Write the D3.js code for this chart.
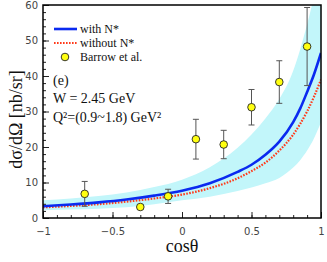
<!DOCTYPE html>
<html>
<head>
<meta charset="utf-8">
<script src="https://cdn.jsdelivr.net/npm/d3@7"></script>
<style>
  body { margin: 0; background: #fff; }
  svg { display: block; }
</style>
</head>
<body>
<div id="chart"></div>
<script>
// data
var expCos = [-0.7, -0.3, -0.1, 0.1, 0.3, 0.5, 0.7, 0.9];
var expVal = [6.8, 3.1, 6.1, 22.2, 20.7, 31.2, 38.3, 48.3];
var expErr = [3.5, 0.6, 2.0, 5.6, 4.0, 5.0, 6.0, 11.0];

var curveCos = [-1, -0.8, -0.6, -0.4, -0.2, 0, 0.2, 0.4, 0.5, 0.6, 0.7, 0.8, 0.85, 0.9, 0.95, 1];
var withNstar = [3.3, 3.8, 4.4, 5.2, 6.3, 7.7, 9.8, 13.0, 15.0, 17.8, 21.5, 27.0, 30.8, 35.5, 40.5, 46.5];
var withoutNstar = [3.0, 3.4, 3.9, 4.6, 5.5, 6.6, 8.4, 11.2, 13.2, 15.6, 19.0, 23.5, 26.5, 30.0, 34.2, 39.0];
var bandUpper = [5.0, 5.5, 6.2, 7.2, 8.7, 10.8, 14.3, 19.8, 23.5, 28.0, 33.5, 41.5, 47.5, 54.5, 62.5, 71.0];
var bandLower = [2.2, 2.4, 2.6, 3.0, 3.9, 5.0, 6.0, 7.6, 8.6, 9.8, 11.3, 14.2, 16.3, 19.0, 22.5, 27.0];

var xTicks = [-1, -0.5, 0, 0.5, 1];
var yTicks = [0, 10, 20, 30, 40, 50, 60];

var W = 327, H = 262;
var margin = { top: 5, right: 6, bottom: 44, left: 43 };
var width = W - margin.left - margin.right;
var height = H - margin.top - margin.bottom;

var svg = d3.select("#chart").append("svg")
  .attr("width", W).attr("height", H);

var g = svg.append("g")
  .attr("transform", "translate(" + margin.left + "," + margin.top + ")");

var x = d3.scaleLinear().domain([-1, 1]).range([0, width]);
var y = d3.scaleLinear().domain([0, 60]).range([height, 0]);

g.append("clipPath").attr("id", "clip")
  .append("rect").attr("width", width).attr("height", height);

var plot = g.append("g").attr("clip-path", "url(#clip)");

var bandData = curveCos.map(function (c, i) {
  return { c: c, lo: bandLower[i], hi: bandUpper[i] };
});

plot.append("path")
  .datum(bandData)
  .attr("fill", "#c2f6fa")
  .attr("d", d3.area()
    .curve(d3.curveMonotoneX)
    .x(function (d) { return x(d.c); })
    .y0(function (d) { return y(d.lo); })
    .y1(function (d) { return y(d.hi); }));

var line = d3.line()
  .curve(d3.curveMonotoneX)
  .x(function (d) { return x(d[0]); })
  .y(function (d) { return y(d[1]); });

plot.append("path")
  .datum(curveCos.map(function (c, i) { return [c, withoutNstar[i]]; }))
  .attr("fill", "none")
  .attr("stroke", "#ff3a1a")
  .attr("stroke-width", 2.2)
  .attr("stroke-dasharray", "1.6,1.4")
  .attr("d", line);

plot.append("path")
  .datum(curveCos.map(function (c, i) { return [c, withNstar[i]]; }))
  .attr("fill", "none")
  .attr("stroke", "#0a2af0")
  .attr("stroke-width", 2.6)
  .attr("d", line);

// error bars
var pts = expCos.map(function (c, i) {
  return { c: c, v: expVal[i], e: expErr[i] };
});

var eb = plot.selectAll(".eb").data(pts).enter().append("g").attr("class", "eb")
  .attr("stroke", "#555").attr("stroke-width", 1);
eb.append("line")
  .attr("x1", function (d) { return x(d.c); })
  .attr("x2", function (d) { return x(d.c); })
  .attr("y1", function (d) { return y(d.v - d.e); })
  .attr("y2", function (d) { return y(d.v + d.e); });
eb.append("line")
  .attr("x1", function (d) { return x(d.c) - 3; })
  .attr("x2", function (d) { return x(d.c) + 3; })
  .attr("y1", function (d) { return y(d.v - d.e); })
  .attr("y2", function (d) { return y(d.v - d.e); });
eb.append("line")
  .attr("x1", function (d) { return x(d.c) - 3; })
  .attr("x2", function (d) { return x(d.c) + 3; })
  .attr("y1", function (d) { return y(d.v + d.e); })
  .attr("y2", function (d) { return y(d.v + d.e); });

plot.selectAll(".pt").data(pts).enter().append("circle")
  .attr("cx", function (d) { return x(d.c); })
  .attr("cy", function (d) { return y(d.v); })
  .attr("r", 3.8)
  .attr("fill", "#ffff10")
  .attr("stroke", "#222")
  .attr("stroke-width", 0.9);

// axes, ticks inward
var fmt = function (d) { return d === 0 ? "0" : d3.format("")(d); };

var xAxis = g.append("g")
  .attr("transform", "translate(0," + height + ")")
  .call(d3.axisBottom(x).tickValues(d3.range(-1, 1.0001, 0.1)).tickSize(-3).tickFormat(""));
xAxis.select(".domain").remove();
var xMajor = g.append("g")
  .attr("transform", "translate(0," + height + ")")
  .call(d3.axisBottom(x).tickValues(xTicks).tickSize(-6).tickPadding(10).tickFormat(fmt));
xMajor.select(".domain").remove();
xMajor.selectAll("text")
  .attr("font-family", "DejaVu Sans, sans-serif")
  .attr("font-size", 10).attr("fill", "#444");

var yAxis = g.append("g")
  .call(d3.axisLeft(y).tickValues(d3.range(0, 60.001, 2)).tickSize(-3).tickFormat(""));
yAxis.select(".domain").remove();
var yMajor = g.append("g")
  .call(d3.axisLeft(y).tickValues(yTicks).tickSize(-6).tickPadding(5));
yMajor.select(".domain").remove();
yMajor.selectAll("text")
  .attr("font-family", "DejaVu Sans, sans-serif")
  .attr("font-size", 10).attr("fill", "#444");
g.selectAll(".tick line").attr("stroke", "#222");

g.append("rect")
  .attr("width", width).attr("height", height)
  .attr("fill", "none").attr("stroke", "#000").attr("stroke-width", 1.5);

// legend
var serif = "Liberation Serif, Times New Roman, serif";
var leg = g.append("g").attr("font-family", serif).attr("font-size", 12).attr("fill", "#111");
leg.append("line").attr("x1", 11).attr("x2", 34).attr("y1", 24).attr("y2", 24)
  .attr("stroke", "#0a2af0").attr("stroke-width", 2.6);
leg.append("text").attr("x", 37).attr("y", 28).text("with N*");
leg.append("line").attr("x1", 11).attr("x2", 34).attr("y1", 38).attr("y2", 38)
  .attr("stroke", "#ff3a1a").attr("stroke-width", 2.2).attr("stroke-dasharray", "1.6,1.4");
leg.append("text").attr("x", 37).attr("y", 42).text("without N*");
leg.append("circle").attr("cx", 22).attr("cy", 52).attr("r", 3.8)
  .attr("fill", "#ffff10").attr("stroke", "#222").attr("stroke-width", 0.9);
leg.append("text").attr("x", 37).attr("y", 56).text("Barrow et al.");

var ann = g.append("g").attr("font-family", serif).attr("font-size", 14).attr("fill", "#111");
ann.append("text").attr("x", 10).attr("y", 80).text("(e)");
ann.append("text").attr("x", 10).attr("y", 98).text("W = 2.45 GeV");
ann.append("text").attr("x", 10).attr("y", 117).text("Q²=(0.9~1.8) GeV²");

// axis titles
svg.append("text")
  .attr("transform", "translate(22," + (margin.top + height / 2 + 8) + ") rotate(-90)")
  .attr("text-anchor", "middle")
  .attr("font-family", serif).attr("font-size", 18).attr("fill", "#111")
  .text("dσ/dΩ [nb/sr]");
svg.append("text")
  .attr("x", margin.left + width / 2).attr("y", 252)
  .attr("text-anchor", "middle")
  .attr("font-family", serif).attr("font-size", 18).attr("fill", "#111")
  .text("cosθ");
</script>
</body>
</html>
